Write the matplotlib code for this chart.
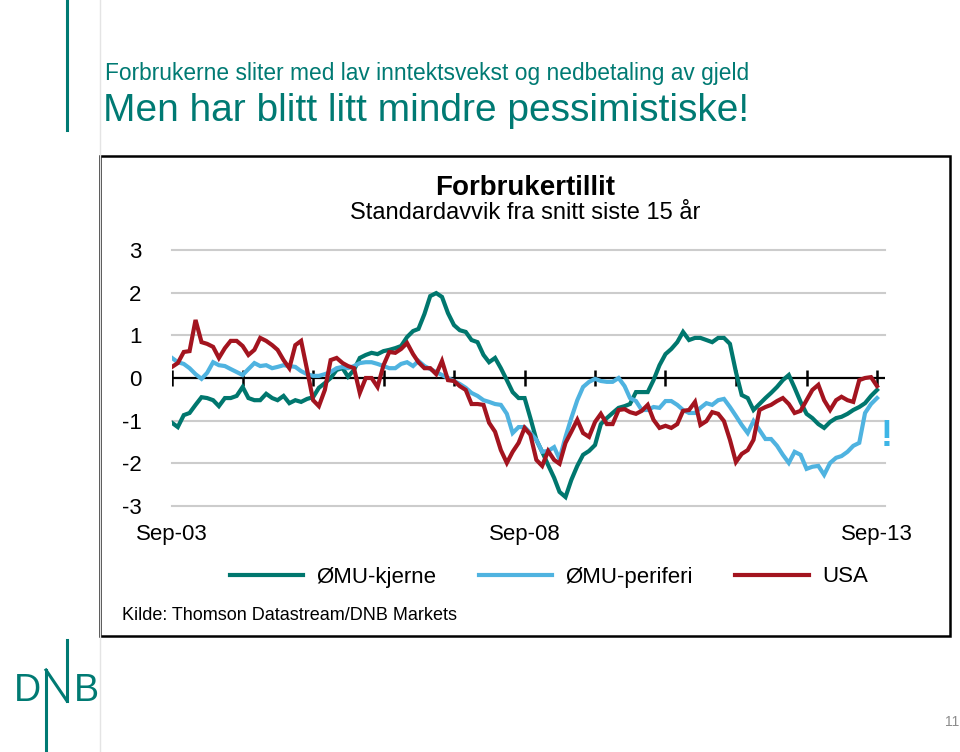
import numpy as np
import pandas as pd
import matplotlib
matplotlib.use("Agg")
import matplotlib.pyplot as plt
import matplotlib.dates as mdates
from matplotlib.lines import Line2D
from matplotlib.patches import Rectangle

plt.rcParams['font.family'] = ['Liberation Sans', 'DejaVu Sans']

# monthly, Sep 2003 - Sep 2013
dates = pd.date_range('2003-09-01', periods=121, freq='MS')

emu_core = [-1.05, -1.15, -0.87, -0.82, -0.63, -0.45, -0.47, -0.52, -0.66, -0.47,
            -0.47, -0.42, -0.21, -0.47, -0.52, -0.52, -0.37, -0.47, -0.52, -0.42,
            -0.59, -0.52, -0.56, -0.49, -0.45, -0.23, -0.12, 0.0, 0.19, 0.23,
            0.03, 0.19, 0.47, 0.54, 0.59, 0.56, 0.63, 0.66, 0.70, 0.75,
            0.96, 1.10, 1.15, 1.50, 1.92, 1.99, 1.90, 1.52, 1.24, 1.12,
            1.08, 0.89, 0.84, 0.54, 0.37, 0.47, 0.23, -0.05, -0.33, -0.47,
            -0.47, -0.94, -1.45, -1.73, -2.04, -2.34, -2.67, -2.79, -2.39, -2.06,
            -1.80, -1.71, -1.57, -1.08, -0.94, -0.82, -0.70, -0.66, -0.61, -0.33,
            -0.33, -0.33, -0.05, 0.30, 0.56, 0.68, 0.84, 1.08, 0.89, 0.94,
            0.94, 0.89, 0.84, 0.94, 0.94, 0.80, 0.14, -0.40, -0.47, -0.75,
            -0.61, -0.47, -0.35, -0.21, -0.05, 0.07, -0.23, -0.56, -0.84, -0.94,
            -1.08, -1.17, -1.03, -0.94, -0.91, -0.84, -0.75, -0.68, -0.59, -0.42, -0.28]

emu_periphery = [0.47, 0.37, 0.33, 0.23, 0.09, -0.02, 0.12, 0.37, 0.30, 0.28,
                 0.21, 0.14, 0.07, 0.21, 0.35, 0.28, 0.30, 0.23, 0.26, 0.30,
                 0.28, 0.26, 0.16, 0.09, 0.05, 0.05, 0.09, 0.14, 0.23, 0.26,
                 0.23, 0.28, 0.35, 0.37, 0.37, 0.33, 0.28, 0.23, 0.23, 0.33,
                 0.37, 0.28, 0.40, 0.28, 0.21, 0.14, 0.07, 0.0, -0.07, -0.14,
                 -0.23, -0.35, -0.42, -0.52, -0.56, -0.61, -0.63, -0.84, -1.29, -1.15,
                 -1.15, -1.29, -1.45, -1.73, -1.71, -1.62, -1.90, -1.38, -0.94, -0.52,
                 -0.21, -0.09, -0.02, -0.07, -0.09, -0.09, 0.0, -0.19, -0.47, -0.54,
                 -0.75, -0.75, -0.68, -0.70, -0.54, -0.54, -0.63, -0.75, -0.82, -0.82,
                 -0.70, -0.59, -0.63, -0.52, -0.49, -0.68, -0.89, -1.10, -1.29, -1.01,
                 -1.22, -1.43, -1.43, -1.59, -1.80, -1.99, -1.73, -1.80, -2.13, -2.08,
                 -2.06, -2.27, -1.99, -1.87, -1.83, -1.73, -1.59, -1.52, -0.82, -0.61, -0.47]

usa = [0.26, 0.35, 0.61, 0.63, 1.36, 0.84, 0.80, 0.73, 0.47, 0.70,
       0.87, 0.87, 0.75, 0.54, 0.66, 0.94, 0.87, 0.77, 0.66, 0.42,
       0.23, 0.77, 0.87, 0.19, -0.52, -0.66, -0.28, 0.42, 0.47, 0.35,
       0.28, 0.23, -0.35, 0.0, 0.0, -0.21, 0.30, 0.61, 0.59, 0.68,
       0.82, 0.56, 0.37, 0.23, 0.23, 0.09, 0.40, -0.05, -0.07, -0.19,
       -0.28, -0.61, -0.61, -0.63, -1.05, -1.26, -1.69, -1.99, -1.73, -1.52,
       -1.17, -1.33, -1.92, -2.06, -1.71, -1.92, -2.01, -1.52, -1.26, -0.98,
       -1.29, -1.38, -1.03, -0.84, -1.08, -1.08, -0.75, -0.73, -0.80, -0.84,
       -0.77, -0.63, -0.98, -1.17, -1.12, -1.17, -1.08, -0.77, -0.75, -0.56,
       -1.10, -1.01, -0.80, -0.84, -1.01, -1.45, -1.97, -1.78, -1.69, -1.45,
       -0.75, -0.68, -0.63, -0.54, -0.47, -0.61, -0.82, -0.77, -0.52, -0.28,
       -0.16, -0.52, -0.75, -0.52, -0.44, -0.52, -0.56, -0.05, 0.0, 0.02, -0.19]

series_names = ['ØMU-kjerne', 'ØMU-periferi', 'USA']
series_colors = ['#00776e', '#4fb3e0', '#a3141f']
ytick_vals = [3, 2, 1, 0, -1, -2, -3]
ytick_labels = ['3', '2', '1', '0', '-1', '-2', '-3']
xtick_dates = pd.to_datetime(['2003-09-01', '2008-09-01', '2013-09-01'])
xtick_labels = ['Sep-03', 'Sep-08', 'Sep-13']
year_ticks = pd.date_range('2003-09-01', '2013-09-01', freq='12MS')

teal = '#007a73'
W, H = 960, 752

fig = plt.figure(figsize=(W / 100, H / 100), dpi=100)

# slide decoration
fig.add_artist(Line2D([100 / W, 100 / W], [0, 1], color='#e4e4e4', lw=1))
fig.add_artist(Line2D([67 / W, 67 / W], [1, 1 - 130 / H], color=teal, lw=2.2))
# DNB logo
fig.add_artist(Line2D([46 / W, 46 / W], [1 - 670 / H, 0], color=teal, lw=2.2))
fig.add_artist(Line2D([46 / W, 67 / W], [1 - 670 / H, 1 - 701 / H], color=teal, lw=2.2))
fig.add_artist(Line2D([67 / W, 67 / W], [1 - 640 / H, 1 - 701 / H], color=teal, lw=2.2))
fig.text(14 / W, 1 - 701 / H, 'D', color=teal, fontsize=27, va='baseline')
fig.text(74 / W, 1 - 701 / H, 'B', color=teal, fontsize=27, va='baseline')

fig.text(105 / W, 1 - 80 / H, 'Forbrukerne sliter med lav inntektsvekst og nedbetaling av gjeld',
         color=teal, fontsize=16.4, va='baseline')
fig.text(103 / W, 1 - 121 / H, 'Men har blitt litt mindre pessimistiske!',
         color=teal, fontsize=28, va='baseline')
fig.text(952 / W, 1 - 722 / H, '11', color='#8c8c8c', fontsize=10, ha='center', va='center')

# chart frame
fig.add_artist(Rectangle((100 / W, 1 - 636 / H), 850 / W, 480 / H, transform=fig.transFigure,
                         fill=False, ec='black', lw=1.8))
fig.text(525 / W, 1 - 188 / H, 'Forbrukertillit', fontsize=20, fontweight='bold',
         ha='center', va='center')
fig.text(525 / W, 1 - 213 / H, 'Standardavvik fra snitt siste 15 år', fontsize=17,
         ha='center', va='center')

ax = fig.add_axes([172 / W, 1 - 506 / H, 713 / W, 256 / H])
ax.patch.set_visible(False)
x0 = mdates.date2num(dates[0])
ax.set_xlim(x0, x0 + 3653 * 121.36 / 120)
ax.set_ylim(-3, 3)
for s in ax.spines.values():
    s.set_visible(False)

for v in ytick_vals:
    if v != 0:
        ax.axhline(v, color='#cccccc', lw=1.5, zorder=0, clip_on=False)
ax.axhline(0, color='black', lw=1.6, zorder=1)
ax.plot(year_ticks, np.zeros(len(year_ticks)), linestyle='none', marker='|',
        ms=12, mew=1.8, color='black', zorder=1)

for vals, c in zip([emu_core, emu_periphery, usa], series_colors):
    ax.plot(dates, vals, color=c, lw=3, zorder=2, solid_joinstyle='miter')

ax.set_yticks(ytick_vals)
ax.set_yticklabels(ytick_labels, fontsize=16)
ax.set_xticks(xtick_dates)
ax.set_xticklabels(xtick_labels, fontsize=16)
ax.tick_params(axis='y', length=0, pad=22)
ax.tick_params(axis='x', length=0, pad=13)

handles = [Line2D([], [], color=c, lw=3) for c in series_colors]
fig.legend(handles, series_names, loc='center left', bbox_to_anchor=(230 / W, 1 - 577 / H),
           ncol=3, frameon=False, fontsize=16, handlelength=3.3, handletextpad=0.6,
           columnspacing=1.9, borderpad=0, borderaxespad=0)

fig.text(122 / W, 1 - 615 / H, 'Kilde: Thomson Datastream/DNB Markets', fontsize=13,
         va='center')
fig.text(887 / W, 1 - 437 / H, '!', color='#3db5e6', fontsize=26, fontweight='bold',
         ha='center', va='center', zorder=5)

fig.savefig('out.png', dpi=100)
